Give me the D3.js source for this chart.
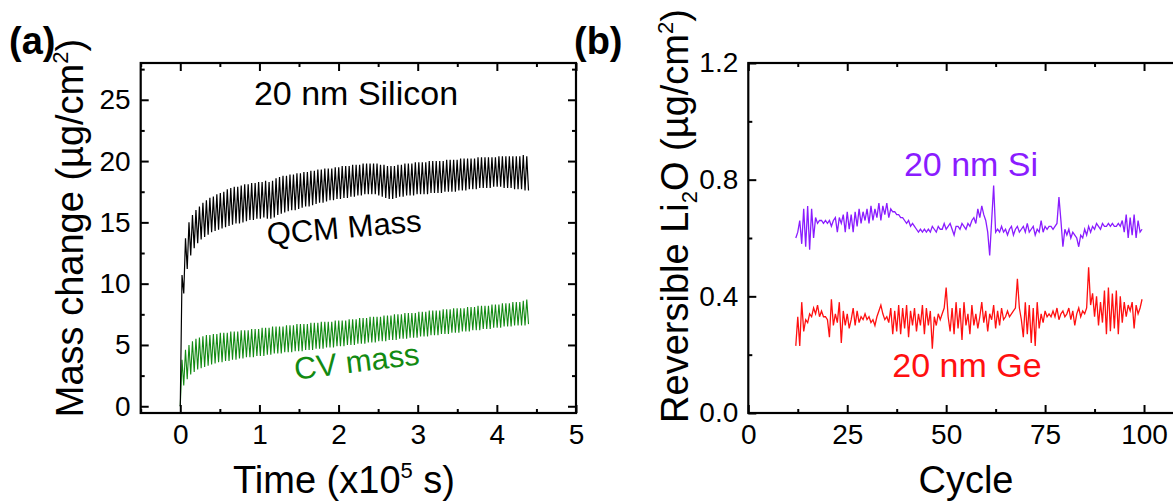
<!DOCTYPE html>
<html><head><meta charset="utf-8">
<script src="https://cdn.jsdelivr.net/npm/d3@7"></script>
<style>
body{margin:0;background:#fff}
svg{display:block}
</style>
</head><body>
<svg id="c" width="1173" height="502"></svg>
<script>
// ---------- data ----------
const timeTicks = [0, 1, 2, 3, 4, 5];
const timeMinor = [-0.5, 0.5, 1.5, 2.5, 3.5, 4.5];
const massTicks = [0, 5, 10, 15, 20, 25];
const massMinor = [2.5, 7.5, 12.5, 17.5, 22.5, 27.5];
const cycleTicks = [0, 25, 50, 75, 100];
const cycleMinor = [12.5, 37.5, 62.5, 87.5];
const li2oTicks = [0.0, 0.4, 0.8, 1.2];
const li2oMinor = [0.2, 0.6, 1.0];

// panel (a): one QCM / CV cycle every cyclePeriod (x10^5 s); trough at start, peak mid-cycle
const cyclePeriod = 0.044;
const qcmPeaks = [10.7,13.7,15.0,15.6,16.0,16.3,16.6,16.8,17.0,17.1,
  17.3,17.4,17.5,17.7,17.8,17.9,17.9,18.0,18.1,18.1,
  18.2,18.2,18.3,18.3,18.4,18.3,18.4,18.6,18.7,18.8,
  18.8,18.9,18.9,19.0,19.0,19.1,19.1,19.2,19.2,19.3,
  19.3,19.4,19.4,19.4,19.5,19.5,19.6,19.6,19.6,19.7,
  19.7,19.7,19.8,19.8,19.8,19.8,19.8,19.7,19.7,19.6,
  19.6,19.6,19.7,19.7,19.8,19.8,19.8,19.9,19.9,19.9,
  19.9,20.0,20.0,20.0,20.0,20.0,20.1,20.1,20.1,20.1,
  20.2,20.2,20.2,20.2,20.2,20.3,20.3,20.3,20.3,20.3,
  20.3,20.4,20.4,20.4,20.4,20.4,20.4,20.4,20.5,20.4];
const qcmTroughs = [0.0,9.2,11.2,12.3,12.9,13.3,13.6,13.8,14.0,14.2,
  14.3,14.4,14.5,14.6,14.7,14.8,14.9,14.9,15.0,15.1,
  15.2,15.2,15.3,15.3,15.4,15.3,15.3,15.4,15.6,15.7,
  15.8,15.9,16.0,16.0,16.1,16.2,16.3,16.3,16.4,16.5,
  16.6,16.6,16.7,16.8,16.8,16.9,16.9,17.0,17.0,17.1,
  17.1,17.2,17.2,17.3,17.3,17.3,17.3,17.2,17.1,17.0,
  16.9,16.9,17.0,17.1,17.1,17.2,17.2,17.2,17.3,17.3,
  17.3,17.3,17.4,17.4,17.4,17.4,17.5,17.5,17.5,17.5,
  17.6,17.6,17.6,17.7,17.7,17.7,17.8,17.8,17.8,17.8,
  17.9,17.9,17.9,17.8,17.8,17.8,17.7,17.7,17.7,17.6,17.6];
const cvPeaks = [3.8,4.6,5.0,5.3,5.5,5.6,5.7,5.8,5.8,5.9,
  5.9,6.0,6.0,6.0,6.1,6.1,6.1,6.2,6.2,6.2,
  6.3,6.3,6.3,6.4,6.4,6.4,6.5,6.5,6.5,6.5,
  6.6,6.6,6.6,6.7,6.7,6.7,6.7,6.8,6.8,6.8,
  6.9,6.9,6.9,6.9,7.0,7.0,7.0,7.0,7.1,7.1,
  7.1,7.2,7.2,7.2,7.3,7.3,7.3,7.3,7.4,7.4,
  7.4,7.5,7.5,7.5,7.6,7.6,7.6,7.6,7.7,7.7,
  7.7,7.8,7.8,7.8,7.8,7.9,7.9,7.9,8.0,8.0,
  8.0,8.0,8.1,8.1,8.1,8.2,8.2,8.2,8.2,8.3,
  8.3,8.3,8.4,8.4,8.4,8.5,8.5,8.5,8.6,8.7];
const cvTroughs = [0.0,1.7,2.2,2.6,2.8,3.0,3.1,3.2,3.3,3.4,
  3.5,3.6,3.6,3.7,3.7,3.8,3.8,3.9,3.9,4.0,
  4.0,4.0,4.1,4.1,4.1,4.2,4.2,4.3,4.3,4.3,
  4.4,4.4,4.4,4.5,4.5,4.5,4.6,4.6,4.6,4.7,
  4.7,4.7,4.8,4.8,4.8,4.9,4.9,4.9,5.0,5.0,
  5.0,5.1,5.1,5.1,5.2,5.2,5.2,5.3,5.3,5.3,
  5.4,5.4,5.4,5.5,5.5,5.5,5.6,5.6,5.6,5.7,
  5.7,5.7,5.8,5.8,5.8,5.9,5.9,5.9,6.0,6.0,
  6.0,6.1,6.1,6.1,6.2,6.2,6.2,6.3,6.3,6.3,
  6.4,6.4,6.4,6.5,6.5,6.5,6.6,6.6,6.6,6.6,6.7];

// panel (b): reversible Li2O, sampled every half cycle from cycle 12
const cycleStart = 12, cycleStep = 0.5;
const siValues = [0.60,0.62,0.66,0.58,0.70,0.57,0.71,0.56,0.70,0.60,
  0.67,0.65,0.66,0.66,0.65,0.66,0.65,0.66,0.64,0.66,
  0.67,0.62,0.67,0.65,0.68,0.62,0.69,0.63,0.68,0.62,
  0.69,0.64,0.70,0.65,0.69,0.66,0.70,0.65,0.71,0.66,
  0.70,0.67,0.72,0.66,0.71,0.68,0.72,0.67,0.70,0.69,
  0.69,0.68,0.68,0.67,0.67,0.66,0.65,0.66,0.64,0.65,
  0.64,0.63,0.62,0.63,0.62,0.63,0.62,0.63,0.62,0.64,
  0.63,0.62,0.64,0.63,0.63,0.65,0.63,0.64,0.65,0.63,
  0.61,0.64,0.64,0.63,0.65,0.64,0.63,0.65,0.64,0.66,
  0.67,0.65,0.70,0.67,0.71,0.68,0.66,0.62,0.54,0.66,
  0.78,0.62,0.63,0.62,0.64,0.62,0.63,0.61,0.63,0.64,
  0.61,0.63,0.64,0.62,0.63,0.64,0.62,0.65,0.62,0.63,
  0.64,0.61,0.63,0.62,0.66,0.62,0.64,0.63,0.64,0.64,
  0.63,0.64,0.65,0.74,0.66,0.57,0.63,0.61,0.63,0.60,
  0.62,0.61,0.60,0.57,0.61,0.60,0.63,0.61,0.64,0.62,
  0.64,0.63,0.65,0.64,0.63,0.65,0.64,0.64,0.65,0.64,
  0.65,0.64,0.64,0.65,0.64,0.66,0.62,0.68,0.60,0.67,
  0.61,0.68,0.60,0.66,0.62,0.63];
const geValues = [0.23,0.33,0.23,0.38,0.28,0.32,0.31,0.34,0.33,0.36,
  0.34,0.37,0.33,0.35,0.33,0.33,0.32,0.26,0.39,0.30,
  0.34,0.31,0.38,0.24,0.35,0.30,0.34,0.29,0.32,0.36,
  0.30,0.35,0.31,0.33,0.32,0.34,0.32,0.33,0.31,0.32,
  0.30,0.33,0.35,0.37,0.34,0.32,0.33,0.31,0.36,0.27,
  0.35,0.28,0.37,0.27,0.36,0.29,0.37,0.26,0.35,0.30,
  0.36,0.28,0.34,0.30,0.37,0.27,0.36,0.30,0.35,0.22,
  0.33,0.30,0.34,0.32,0.34,0.36,0.43,0.33,0.28,0.36,
  0.27,0.38,0.29,0.36,0.25,0.38,0.30,0.34,0.27,0.37,
  0.30,0.34,0.29,0.33,0.38,0.31,0.35,0.28,0.34,0.32,
  0.37,0.29,0.35,0.30,0.36,0.32,0.33,0.35,0.33,0.34,
  0.35,0.36,0.46,0.36,0.32,0.26,0.38,0.27,0.37,0.24,
  0.36,0.23,0.38,0.29,0.34,0.31,0.35,0.33,0.34,0.33,
  0.35,0.33,0.36,0.32,0.34,0.35,0.33,0.34,0.36,0.32,
  0.35,0.30,0.34,0.36,0.33,0.35,0.34,0.36,0.50,0.37,
  0.41,0.33,0.40,0.30,0.38,0.31,0.42,0.27,0.43,0.28,
  0.41,0.29,0.42,0.27,0.40,0.31,0.38,0.33,0.37,0.35,
  0.38,0.29,0.37,0.34,0.36,0.39];

// ---------- drawing ----------
const svg = d3.select("#c");
const TICK = 28, TITLE = 38, ANNOT = 34;
const FONT = '"Liberation Sans",Arial,sans-serif';
const GREEN = "#128a12", PURPLE = "#8a1cff", RED = "#ff1010";

function buildCycles(troughs, peaks) {
  const pts = [];
  peaks.forEach((p, i) => {
    pts.push({t: i * cyclePeriod, v: troughs[i]});
    pts.push({t: (i + 0.5) * cyclePeriod, v: p});
  });
  pts.push({t: peaks.length * cyclePeriod, v: troughs[peaks.length]});
  return pts;
}

function frame(x, y, o) {
  const [x0, x1] = x.range(), [y0, y1] = y.range();
  const g = svg.append("g");
  const ax = (gen, tr, vals, size, fmt, pad) => {
    const a = g.append("g").attr("transform", tr)
      .call(gen.tickValues(vals).tickSize(size).tickPadding(pad).tickFormat(fmt));
    a.select(".domain").remove();
    a.selectAll("line").attr("stroke", "#000").attr("stroke-width", 2);
    a.selectAll("text").attr("font-size", TICK).attr("fill", "#000").attr("font-family", FONT);
    return a;
  };
  ax(d3.axisBottom(x), `translate(0,${y0})`, o.xMajor, -8, o.xFmt, 11);
  ax(d3.axisBottom(x), `translate(0,${y0})`, o.xMinor, -4, () => "", 11);
  ax(d3.axisTop(x), `translate(0,${y1})`, o.xMajor, -8, () => "", 11);
  ax(d3.axisTop(x), `translate(0,${y1})`, o.xMinor, -4, () => "", 11);
  ax(d3.axisLeft(y), `translate(${x0},0)`, o.yMajor, -8, o.yFmt, 10);
  ax(d3.axisLeft(y), `translate(${x0},0)`, o.yMinor, -4, () => "", 10);
  ax(d3.axisRight(y), `translate(${x1},0)`, o.yMajor, -8, () => "", 10);
  ax(d3.axisRight(y), `translate(${x1},0)`, o.yMinor, -4, () => "", 10);
  g.append("rect").attr("x", x0).attr("y", y1).attr("width", x1 - x0).attr("height", y0 - y1)
    .attr("fill", "none").attr("stroke", "#000").attr("stroke-width", 2.2);
  return g;
}

// ----- panel (a)
const xa = d3.scaleLinear().domain([-0.5, 5]).range([140.7, 576]);
const ya = d3.scaleLinear().domain([-0.55, 28]).range([413, 63]);
const lineA = d3.line().x(d => xa(d.t)).y(d => ya(d.v));
svg.append("path").datum(buildCycles(cvTroughs, cvPeaks)).attr("d", lineA)
  .attr("fill", "none").attr("stroke", GREEN).attr("stroke-width", 1.1);
svg.append("path").datum(buildCycles(qcmTroughs, qcmPeaks)).attr("d", lineA)
  .attr("fill", "none").attr("stroke", "#000").attr("stroke-width", 1.2);
frame(xa, ya, {xMajor: timeTicks, xMinor: timeMinor, yMajor: massTicks, yMinor: massMinor,
  xFmt: d3.format("d"), yFmt: d3.format("d")});

// ----- panel (b)
const xb = d3.scaleLinear().domain([0, 110]).range([748.3, 1183.6]);
const yb = d3.scaleLinear().domain([0, 1.2]).range([413, 63]);
const lineB = d3.line().x((d, i) => xb(cycleStart + i * cycleStep)).y(d => yb(d));
svg.append("path").datum(siValues).attr("d", lineB)
  .attr("fill", "none").attr("stroke", PURPLE).attr("stroke-width", 1.3);
svg.append("path").datum(geValues).attr("d", lineB)
  .attr("fill", "none").attr("stroke", RED).attr("stroke-width", 1.3);
frame(xb, yb, {xMajor: cycleTicks, xMinor: cycleMinor, yMajor: li2oTicks, yMinor: li2oMinor,
  xFmt: d3.format("d"), yFmt: d3.format(".1f")});

// ----- texts
function txt(x, y, s, size, opts = {}) {
  const t = svg.append("text").attr("x", x).attr("y", y).attr("font-size", size)
    .attr("font-family", FONT)
    .attr("text-anchor", opts.anchor || "middle").attr("fill", opts.fill || "#000");
  if (s) t.text(s);
  if (opts.weight) t.attr("font-weight", opts.weight);
  if (opts.rotate !== undefined) t.attr("transform", `rotate(${opts.rotate},${x},${y})`);
  return t;
}
txt(9, 54, "(a)", 38, {anchor: "start", weight: "bold"});
txt(574, 54, "(b)", 38, {anchor: "start", weight: "bold"});

txt(356, 105, "20 nm Silicon", ANNOT);
txt(345, 238, "QCM Mass", 31, {rotate: -5});
txt(358, 372, "CV mass", 31, {fill: GREEN, rotate: -7});
txt(971, 176, "20 nm Si", ANNOT, {fill: PURPLE});
txt(967, 377, "20 nm Ge", ANNOT, {fill: RED});

// x titles
let t = txt(344, 493, "", TITLE);
t.append("tspan").text("Time (x10");
t.append("tspan").attr("dy", -15).attr("font-size", 22).text("5");
t.append("tspan").attr("dy", 15).text(" s)");
txt(966, 493, "Cycle", TITLE);

// y titles
t = txt(83, 228, "", TITLE, {rotate: -90});
t.append("tspan").text("Mass change (µg/cm");
t.append("tspan").attr("dy", -15).attr("font-size", 22).text("2");
t.append("tspan").attr("dy", 15).text(")");

t = txt(688, 216, "", TITLE, {rotate: -90});
t.append("tspan").text("Reversible Li");
t.append("tspan").attr("dy", 9).attr("font-size", 22).text("2");
t.append("tspan").attr("dy", -9).text("O (µg/cm");
t.append("tspan").attr("dy", -15).attr("font-size", 22).text("2");
t.append("tspan").attr("dy", 15).text(")");
</script>
</body></html>
